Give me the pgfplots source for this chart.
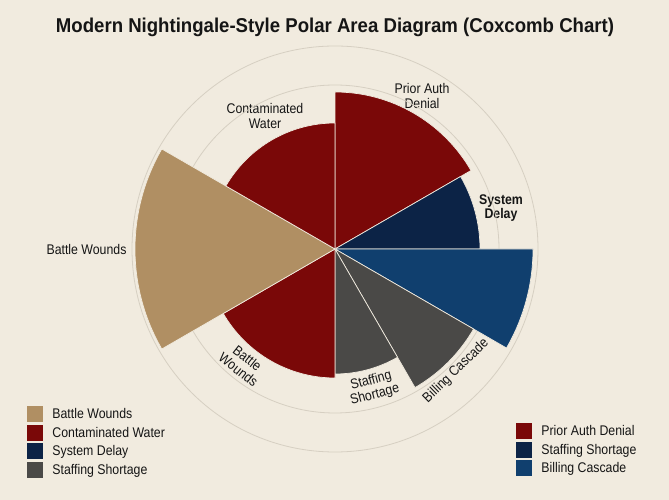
\documentclass[border=0pt]{standalone}
\usepackage{pgfplots}
\pgfplotsset{compat=1.18}
\usepackage{pgfplotstable}
\usepackage{fontspec}
\setmainfont{Liberation Sans}[FakeStretch=0.88]
\newfontfamily\titlefont{Liberation Sans}[FakeStretch=0.93]

\definecolor{bgc}{HTML}{F1EBDF}
\definecolor{ringc}{HTML}{D6CFC2}
\definecolor{wred}{HTML}{7A0808}
\definecolor{wnavy}{HTML}{0C2346}
\definecolor{wblue}{HTML}{103F6E}
\definecolor{wgray}{HTML}{4A4947}
\definecolor{wtan}{HTML}{B08F63}
\definecolor{txt}{HTML}{151515}

% grid rings (radius)
\pgfplotstableread{
x y r
0 0 164
0 0 203
}\rings

% wedges: start angle, end angle, radius, colour index
% colour index: 0 red, 1 navy, 2 blue, 3 gray, 4 tan
\pgfplotstableread{
x y a1 a2 r ci
0 0 30 90 157 0
0 0 0 30 145 1
0 0 -30 0 198 2
0 0 -60 -30 160 3
0 0 -90 -60 125 3
0 0 -150 -90 129 0
0 0 150 210 200 4
0 0 90 150 126 0
}\wedges

\newcommand\pickcolour[1]{%
  \pgfmathtruncatemacro\cidx{#1}%
  \ifcase\cidx\relax \def\wc{wred}\or \def\wc{wnavy}\or \def\wc{wblue}\or
    \def\wc{wgray}\or \def\wc{wtan}\fi}

\pgfplotsset{
  canvas/.style={x=1bp, y=1bp, scale only axis,
    xmin=-335, xmax=334, ymin=-251, ymax=249,
    enlargelimits=false, axis line style={draw=none}, ticks=none, clip=false},
  swatch/.style={legend image code/.code={\path[draw=none,##1] (0bp,-8bp) rectangle (16bp,8bp);
    \path (23bp,0bp);}},
  keylegend/.style={legend style={at={#1}, anchor=north west, draw=none, fill=none,
    inner sep=0pt, font=\fontsize{14bp}{16bp}\selectfont, row sep=2.5bp,
    cells={anchor=west}, text=txt}},
}

\begin{document}
\begin{tikzpicture}
\begin{axis}[canvas, name=main, axis background/.style={fill=bgc},
  keylegend={(0.0404,0.188)}]
  \addplot[forget plot, scatter, only marks, mark=text, text mark={},
    point meta=\thisrow{r},
    visualization depends on={\thisrow{r} \as \rr},
    scatter/@pre marker code/.code={\draw[ringc, line width=0.8bp] (0bp,0bp) circle[radius=\rr bp];},
    scatter/@post marker code/.code={}]
    table {\rings};
  \addplot[forget plot, scatter, only marks, mark=text, text mark={},
    point meta=\thisrow{r},
    visualization depends on={\thisrow{a1} \as \aone},
    visualization depends on={\thisrow{a2} \as \atwo},
    visualization depends on={\thisrow{r} \as \rr},
    visualization depends on={\thisrow{ci} \as \ci},
    scatter/@pre marker code/.code={\pickcolour{\ci}%
      \path[fill=\wc, draw=bgc, line width=0.7bp, line join=round]
      (0bp,0bp) -- (\aone:\rr bp) arc[start angle=\aone, end angle=\atwo, radius=\rr bp] -- cycle;},
    scatter/@post marker code/.code={}]
    table {\wedges};

  \addlegendimage{swatch, fill=wtan}\addlegendentry{Battle Wounds}
  \addlegendimage{swatch, fill=wred}\addlegendentry{Contaminated Water}
  \addlegendimage{swatch, fill=wnavy}\addlegendentry{System Delay}
  \addlegendimage{swatch, fill=wgray}\addlegendentry{Staffing Shortage}

  \node[font=\titlefont\bfseries\fontsize{20bp}{24bp}\selectfont, text=txt, anchor=base]
    at (axis cs:0,216.5) {Modern Nightingale-Style Polar Area Diagram (Coxcomb Chart)};

  \begin{scope}[font=\fontsize{14bp}{14.5bp}\selectfont, text=txt, align=center, inner sep=0pt]
    \node at (axis cs:87,153) {Prior Auth\\Denial};
    \node at (axis cs:-70,133) {Contaminated\\Water};
    \node[font=\bfseries\fontsize{14bp}{14.5bp}\selectfont] at (axis cs:166,41) {System\\Delay};
    \node at (axis cs:-248.5,-1) {Battle Wounds};
    \node[rotate=-38] at (axis cs:-92,-115) {Battle\\Wounds};
    \node[rotate=15] at (axis cs:38,-139) {Staffing\\Shortage};
    \node[rotate=44] at (axis cs:121,-122) {Billing Cascade};
  \end{scope}
\end{axis}

\begin{axis}[canvas, at={(main.south west)}, anchor=south west,
  keylegend={(0.7713,0.154)}]
  \addlegendimage{swatch, fill=wred}\addlegendentry{Prior Auth Denial}
  \addlegendimage{swatch, fill=wnavy}\addlegendentry{Staffing Shortage}
  \addlegendimage{swatch, fill=wblue}\addlegendentry{Billing Cascade}
\end{axis}
\end{tikzpicture}
\end{document}
